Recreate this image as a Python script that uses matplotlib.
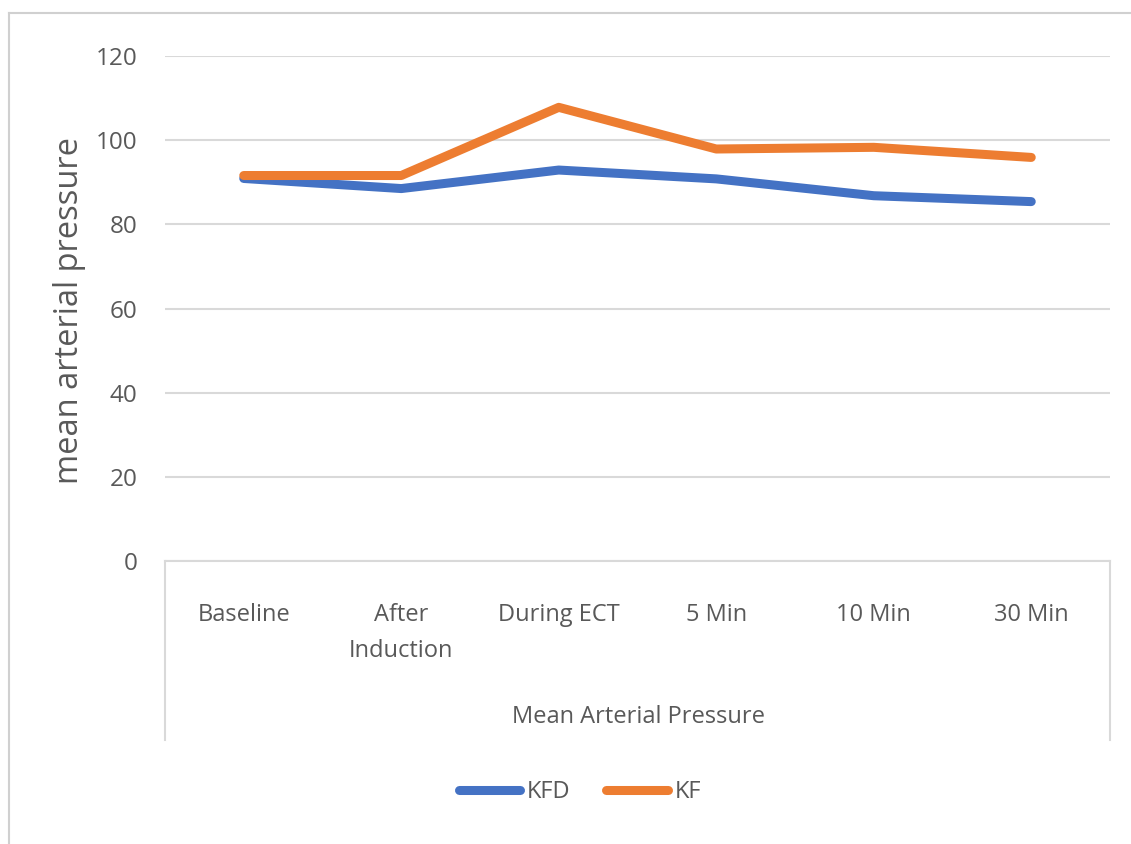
import matplotlib.pyplot as plt
from matplotlib.lines import Line2D

categories = ["Baseline", "After\nInduction", "During ECT", "5 Min", "10 Min", "30 Min"]
kfd = [90.9, 88.5, 92.9, 90.8, 86.8, 85.4]
kf = [91.6, 91.6, 107.8, 97.9, 98.3, 95.9]
y_ticks = [0, 20, 40, 60, 80, 100, 120]

TEXT = "#595959"
GRID = "#D9D9D9"
plt.rcParams["font.family"] = ["Open Sans", "DejaVu Sans"]

W, H = 1131, 844
fig = plt.figure(figsize=(W / 100, H / 100), dpi=100)
left, right, top, bottom = 165, 1110, 56, 561
ax = fig.add_axes([left / W, 1 - bottom / H, (right - left) / W, (bottom - top) / H])

xs = [i + 0.5 for i in range(len(categories))]
ax.plot(xs, kfd, color="#4472C4", lw=6.5, solid_capstyle="round", solid_joinstyle="round", label="KFD", zorder=3)
ax.plot(xs, kf, color="#ED7D31", lw=6.5, solid_capstyle="round", solid_joinstyle="round", label="KF", zorder=3)

ax.set_xlim(0, len(categories))
ax.set_ylim(0, 120)
ax.set_yticks(y_ticks)
ax.set_xticks(xs)
ax.set_xticklabels(categories, linespacing=1.7)
ax.tick_params(axis="y", length=0, pad=20, labelsize=17.5, labelcolor=TEXT)
ax.tick_params(axis="x", length=0, pad=30, labelsize=17, labelcolor=TEXT)
ax.grid(axis="y", color=GRID, lw=1.5)
ax.set_axisbelow(True)
for s in ["top", "right", "left"]:
    ax.spines[s].set_visible(False)
ax.spines["bottom"].set_color(GRID)
ax.spines["bottom"].set_linewidth(1.5)

# outer category box edges
depth = (740 - bottom) / (bottom - top)
for xa in (0, 1):
    ax.plot([xa, xa], [0, -depth], transform=ax.transAxes, color=GRID, lw=1.5, clip_on=False)

fig.text(70 / W, 1 - 310 / H, "mean arterial pressure", rotation=90, ha="center", va="center",
         fontsize=23.5, color=TEXT)
fig.text(638 / W, 1 - 717 / H, "Mean Arterial Pressure", ha="center", va="center", fontsize=17, color=TEXT)

fig.legend(loc="center", bbox_to_anchor=(580 / W, 1 - 792 / H), ncol=2, frameon=False,
           fontsize=17, handlelength=2.6, handletextpad=0.3, columnspacing=1.5, labelcolor=TEXT)

# chart frame
fig.add_artist(Line2D([9 / W, 1], [1 - 13 / H, 1 - 13 / H], color="#D0D0D0", lw=1.5))
fig.add_artist(Line2D([9 / W, 9 / W], [0, 1 - 13 / H], color="#D0D0D0", lw=1.5))

fig.savefig("out.png", dpi=100)
